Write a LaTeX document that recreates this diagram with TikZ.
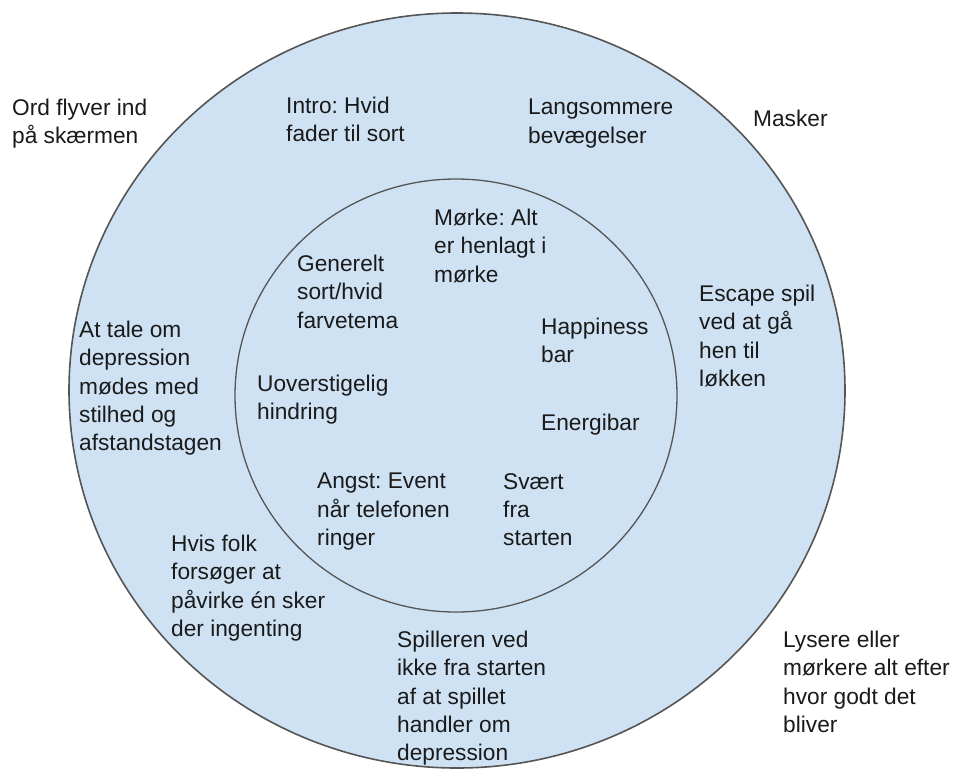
\documentclass[tikz,border=0pt]{standalone}
\usepackage{fontspec}
\setmainfont{Liberation Sans}
\frenchspacing
\definecolor{fillblue}{HTML}{CFE2F3}
\definecolor{ringline}{HTML}{555555}
\definecolor{txt}{HTML}{1A1A1A}
\begin{document}
\begin{tikzpicture}[x=1pt,y=-1pt,
  ring/.style={draw=ringline,fill=fillblue},
  note/.style={anchor=north west,inner sep=0pt,align=left,text=txt,
    font=\fontsize{22.7}{28.2}\selectfont}]
  % canvas
  \fill[white] (0,0) rectangle (955,769);
  \useasboundingbox (0,0) rectangle (955,769);
  % outer and inner rings
  \draw[ring,line width=1.6pt] (457,390.5) ellipse [x radius=388,y radius=377.5];
  \draw[ring,line width=1.3pt] (456,395.5) ellipse [x radius=221,y radius=216.5];
  % labels outside the rings
  \node[note] (ord) at (12,99) {Ord flyver ind\\på skærmen};
  \node[note] (masker) at (753,110) {Masker};
  \node[note] (lysere) at (783,631) {Lysere eller\\mørkere alt efter\\hvor godt det\\bliver};
  % labels in the outer ring
  \node[note] (intro) at (286,97) {Intro: Hvid\\fader til sort};
  \node[note] (lang) at (528,99) {Langsommere\\bevægelser};
  \node[note] (escape) at (699,285) {Escape spil\\ved at gå\\hen til\\løkken};
  \node[note] (tale) at (79,321) {At tale om\\depression\\mødes med\\stilhed og\\afstandstagen};
  \node[note] (hvis) at (171,535) {Hvis folk\\forsøger at\\påvirke én sker\\der ingenting};
  \node[note] (spiller) at (397,631) {Spilleren ved\\ikke fra starten\\af at spillet\\handler om\\depression};
  % labels in the inner ring
  \node[note] (morke) at (434,209) {Mørke: Alt\\er henlagt i\\mørke};
  \node[note] (generelt) at (297,255) {Generelt\\sort/hvid\\farvetema};
  \node[note] (happy) at (541,318) {Happiness\\bar};
  \node[note] (uover) at (257,375) {Uoverstigelig\\hindring};
  \node[note] (energi) at (541,414) {Energibar};
  \node[note] (angst) at (317,473) {Angst: Event\\når telefonen\\ringer};
  \node[note] (svaert) at (503,473) {Svært\\fra\\starten};
\end{tikzpicture}
\end{document}
